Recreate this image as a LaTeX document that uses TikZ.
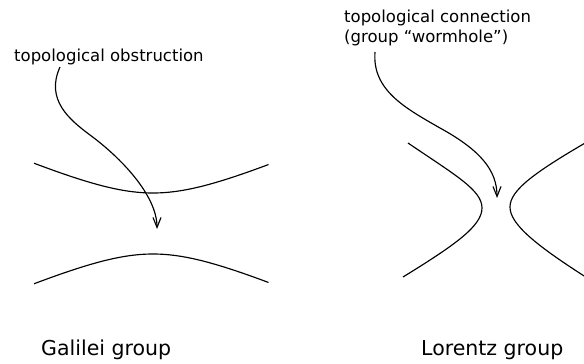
\documentclass[tikz,border=0pt]{standalone}
\usepackage{fontspec}
\setmainfont{DejaVu Sans}
\usetikzlibrary{arrows.meta}
\begin{document}
\begin{tikzpicture}[x=1pt,y=-1pt,
  curve/.style={line width=1.15pt,black},
  pointer/.style={line width=1.15pt,black,-{Straight Barb[length=10pt,width=8pt,line width=1.15pt]}},
  small/.style={inner sep=0pt,anchor=base west,font=\fontsize{16.5}{20}\selectfont},
  big/.style={inner sep=0pt,anchor=base west,font=\fontsize{20.5}{24}\selectfont}]
\useasboundingbox (0,0) rectangle (584,364);
% labels
\node[small] (obs) at (14,61) {topological obstruction};
\node[small] (con1) at (344,22) {topological connection};
\node[small] (con2) at (344,42) {(group “wormhole”)};
\node[big] (gal) at (41,355) {Galilei group};
\node[big] (lor) at (421,355) {Lorentz group};
% Galilei curves
\draw[curve] plot[domain=-1.303:1.279,samples=80,variable=\t] ({153+69.8*sinh(\t)},{223.5-30.5*cosh(\t)});
\draw[curve] plot[domain=-1.303:1.279,samples=80,variable=\t] ({153+69.8*sinh(\t)},{223.5+30.5*cosh(\t)});
% Lorentz curves
\draw[curve] (408,143) .. controls (455,175) and (482,190) .. (482,208)
  .. controls (482,226) and (455,245) .. (403,277);
\draw[curve] (592,139) .. controls (535,172) and (510,190) .. (510,207)
  .. controls (510,224) and (535,245) .. (592,281);
% arrows
\coordinate (s1) at (60,67);
\coordinate (e1) at (157,229);
\coordinate (s2) at (375,52);
\coordinate (e2) at (497,198);
\draw[pointer] (s1) .. controls (45,100) and (70,120) .. (90,135)
  .. controls (120,157) and (157,195) .. (e1);
\draw[pointer] (s2) .. controls (372,90) and (405,108) .. (440,128)
  .. controls (480,150) and (497,170) .. (e2);
\end{tikzpicture}
\end{document}
